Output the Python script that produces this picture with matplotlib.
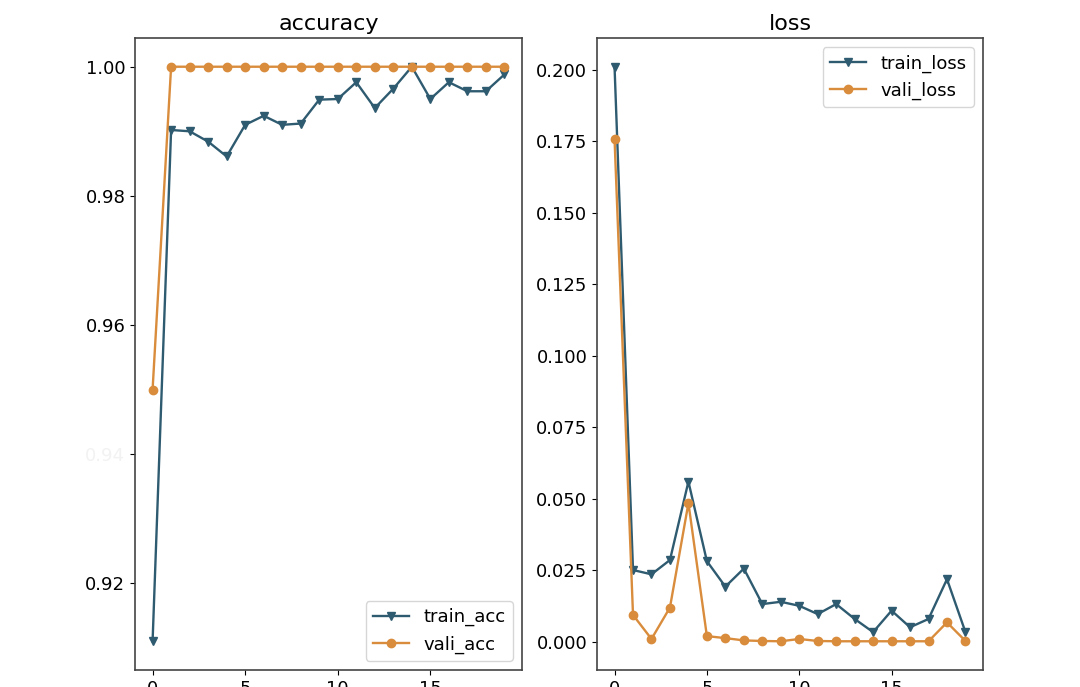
import numpy as np
import matplotlib
matplotlib.use('Agg')
import matplotlib.pyplot as plt

# Values (20 epochs)
epochs = list(range(20))
train_acc = [0.911, 0.9902, 0.9900, 0.9884, 0.9861, 0.9910, 0.9924, 0.9910, 0.9912, 0.9949,
             0.9950, 0.9976, 0.9936, 0.9966, 1.0000, 0.9950, 0.9976, 0.9962, 0.9962, 0.9988]
vali_acc = [0.950] + [1.0] * 19
train_loss = [0.2010, 0.0251, 0.0236, 0.0286, 0.0560, 0.0282, 0.0193, 0.0256, 0.0132, 0.0140,
              0.0126, 0.0097, 0.0132, 0.0080, 0.0034, 0.0109, 0.0051, 0.0080, 0.0219, 0.0034]
vali_loss = [0.1757, 0.0094, 0.0010, 0.0120, 0.0485, 0.0020, 0.0013, 0.0005, 0.0003, 0.0002,
             0.0010, 0.0003, 0.0002, 0.0002, 0.0002, 0.0002, 0.0002, 0.0002, 0.0068, 0.0003]

train_color = '#2f5b70'
vali_color = '#d98c3c'

plt.rcParams['font.size'] = 13
plt.rcParams['lines.linewidth'] = 1.7

fig = plt.figure(figsize=(10.8, 6.87), dpi=100)
ax1 = fig.add_axes([135 / 1080, 17 / 687, 387 / 1080, 632 / 687])
ax2 = fig.add_axes([597 / 1080, 17 / 687, 386 / 1080, 632 / 687])

ax1.plot(epochs, train_acc, marker='v', color=train_color, label='train_acc')
ax1.plot(epochs, vali_acc, marker='o', color=vali_color, label='vali_acc')
ax1.set_title('accuracy', fontsize=16)
ax1.set_yticks([0.92, 0.94, 0.96, 0.98, 1.00])
ax1.legend(loc='lower right')
# the 0.94 label is almost washed out in the reference
for lbl in ax1.get_yticklabels():
    if lbl.get_text() == '0.94':
        lbl.set_color('#f2f2f2')

ax2.plot(epochs, train_loss, marker='v', color=train_color, label='train_loss')
ax2.plot(epochs, vali_loss, marker='o', color=vali_color, label='vali_loss')
ax2.set_title('loss', fontsize=16)
ax2.legend(loc='upper right')

for ax in (ax1, ax2):
    ax.set_xticks([0, 5, 10, 15])
    for sp in ax.spines.values():
        sp.set_color('#444444')
        sp.set_linewidth(1.2)

fig.savefig('out.png', dpi=100)
